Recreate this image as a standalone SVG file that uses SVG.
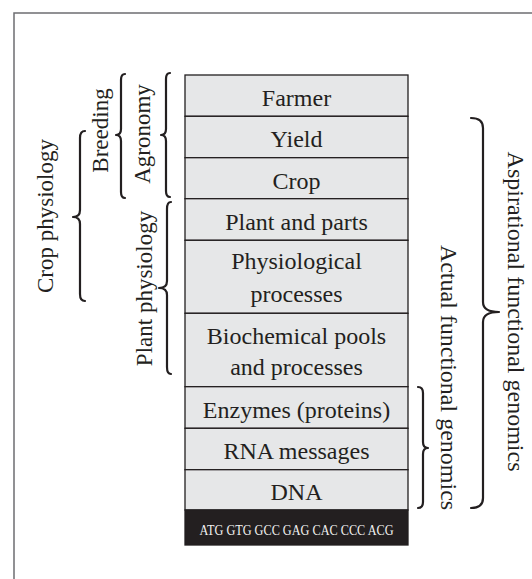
<svg xmlns="http://www.w3.org/2000/svg" width="532" height="579" viewBox="0 0 532 579">
<style>
.row{fill:#e6e7e8;stroke:#231f20;stroke-width:1.3}
.t{font-family:"Liberation Serif","Times New Roman",serif;font-size:24px;fill:#231f20;text-anchor:middle}
.s{font-size:23px}
.brace{fill:none;stroke:#231f20;stroke-width:2.2;stroke-linecap:round;stroke-linejoin:round}
.frame{fill:none;stroke:#6d6e71;stroke-width:1.5}
</style>
<rect width="532" height="579" fill="#ffffff"/>
<path class="frame" d="M14,579 V13 H532"/>

<g id="farmer"><rect class="row" x="185" y="75" width="223" height="41.3"/><text class="t" x="296.5" y="106">Farmer</text></g>
<g id="yield"><rect class="row" x="185" y="116.3" width="223" height="41.4"/><text class="t" x="296.5" y="147">Yield</text></g>
<g id="crop"><rect class="row" x="185" y="157.7" width="223" height="41"/><text class="t" x="296.5" y="188.5">Crop</text></g>
<g id="plant"><rect class="row" x="185" y="198.7" width="223" height="41.6"/><text class="t" x="296.5" y="230">Plant and parts</text></g>
<g id="physiological"><rect class="row" x="185" y="240.3" width="223" height="73"/><text class="t" x="296.5" y="269">Physiological</text><text class="t" x="296.5" y="302">processes</text></g>
<g id="biochemical"><rect class="row" x="185" y="313.3" width="223" height="73.4"/><text class="t" x="296.5" y="344">Biochemical pools</text><text class="t" x="296.5" y="375">and processes</text></g>
<g id="enzymes"><rect class="row" x="185" y="386.7" width="223" height="41.6"/><text class="t" x="296.5" y="417.5">Enzymes (proteins)</text></g>
<g id="rna"><rect class="row" x="185" y="428.3" width="223" height="41.4"/><text class="t" x="296.5" y="459">RNA messages</text></g>
<g id="dna"><rect class="row" x="185" y="469.7" width="223" height="40.3"/><text class="t" x="296.5" y="500">DNA</text></g>
<g id="sequence"><rect x="185" y="510" width="223" height="35" fill="#231f20" stroke="#231f20" stroke-width="1.3"/><text x="296.5" y="534.5" font-family="'Liberation Serif','Times New Roman',serif" font-size="14" fill="#f1f1f1" text-anchor="middle" textLength="194" lengthAdjust="spacingAndGlyphs">ATG GTG GCC GAG CAC CCC ACG</text></g>

<g id="braces">
<path class="brace" d="M85,131 Q80,131 80,138 L80,210 Q80,217 73,217 Q80,217 80,224 L80,294 Q80,301 85,301"/>
<path class="brace" d="M125,74 Q121,74 121,80 L121,129 Q121,135 116,135 Q121,135 121,141 L121,192 Q121,198 125,198"/>
<path class="brace" d="M170,73 Q166,73 166,79 L166,129 Q166,135 161,135 Q166,135 166,141 L166,191 Q166,197 170,197"/>
<path class="brace" d="M171,202 Q167,202 167,209 L167,281 Q167,288 159,288 Q167,288 167,295 L167,367 Q167,374 171,374"/>
<path class="brace" d="M471,118 Q483,118 483,128 L483,302 Q483,312 499,312 Q483,312 483,322 L483,498 Q483,508 471,508"/>
<path class="brace" d="M418,387 Q423,387 423,393 L423,442 Q423,448 428,448 Q423,448 423,454 L423,502 Q423,508 418,508"/>
</g>

<g id="label-crop-physiology"><text class="t s" transform="translate(53,216) rotate(-90)">Crop physiology</text></g>
<g id="label-breeding"><text class="t s" transform="translate(108,130.5) rotate(-90)">Breeding</text></g>
<g id="label-agronomy"><text class="t s" transform="translate(150,134) rotate(-90)">Agronomy</text></g>
<g id="label-plant-physiology"><text class="t s" transform="translate(152,288.5) rotate(-90)">Plant physiology</text></g>
<g id="label-actual"><text class="t" transform="translate(441,377.5) rotate(90)">Actual functional genomics</text></g>
<g id="label-aspirational"><text class="t" transform="translate(508,311.5) rotate(90)">Aspirational functional genomics</text></g>
</svg>
